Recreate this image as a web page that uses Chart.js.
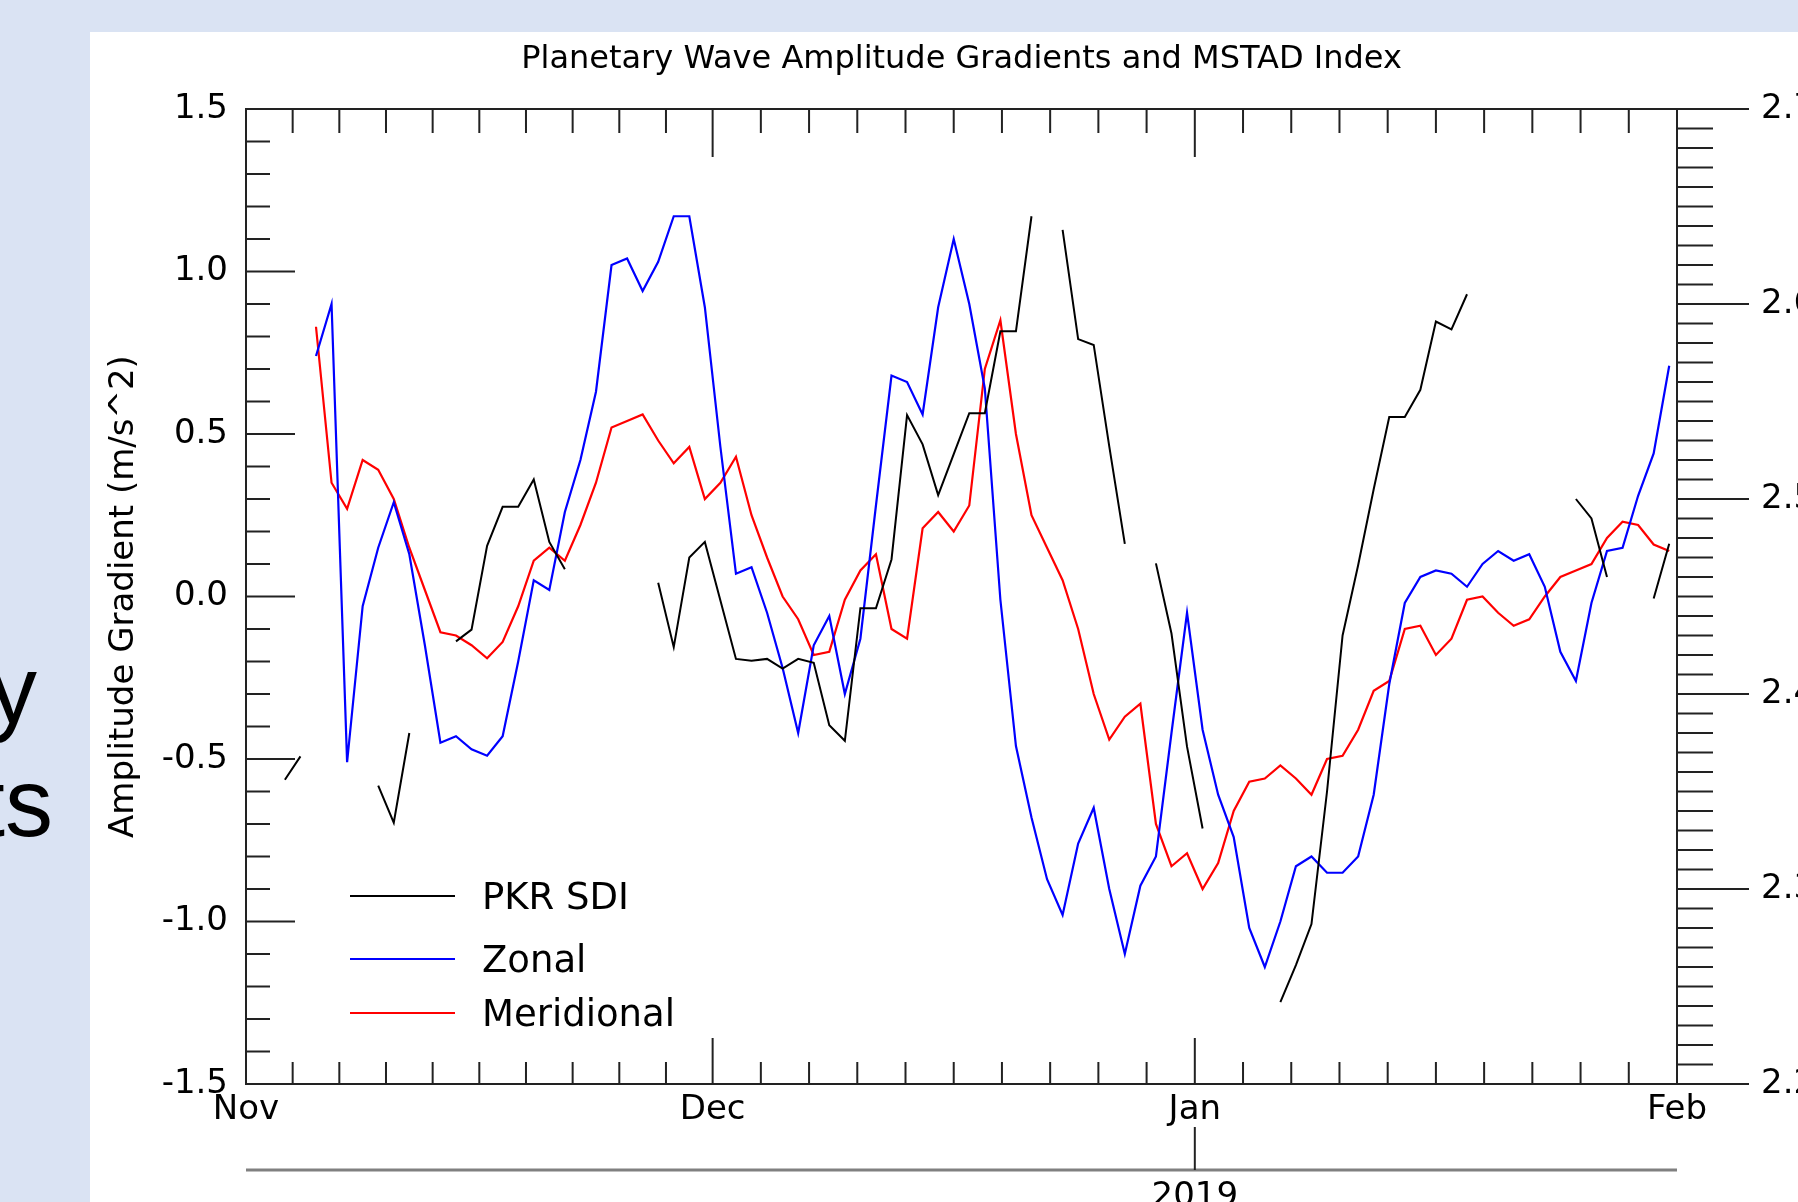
<!DOCTYPE html>
<html>
<head>
<meta charset="utf-8">
<title>Planetary Wave Amplitude Gradients and MSTAD Index</title>
<script src="https://cdn.jsdelivr.net/npm/chart.js@4.4.1/dist/chart.umd.min.js"></script>
<style>
  body {
    margin: 0;
    width: 1798px;
    height: 1202px;
    overflow: hidden;
    position: relative;
    background: #dae3f3;
  }
  .slide-text {
    position: absolute;
    font-family: 'Liberation Sans', Arial, sans-serif;
    font-size: 96px;
    line-height: 96px;
    color: #000;
    white-space: nowrap;
  }
  #panel {
    position: absolute;
    left: 90px;
    top: 32px;
    width: 1708px;
    height: 1170px;
    background: #fff;
  }
</style>
</head>
<body>
<div class="slide-text" style="right: 1761px; top: 642px;">y</div>
<div class="slide-text" style="right: 1745px; top: 755px;">ts</div>
<div id="panel"><canvas id="my-chart" width="1708" height="1170"></canvas></div>

<script>
// day 0 is 1 Nov 2018, one value per day, null where there is no data
const monthLabels = ['Nov', 'Dec', 'Jan', 'Feb'];
const monthStarts = [0, 30, 61, 92];
const yearLabel = '2019';
const leftTicks = [-1.5, -1.0, -0.5, 0.0, 0.5, 1.0, 1.5];
const rightTicks = [2.2, 2.3, 2.4, 2.5, 2.6, 2.7];

// MSTAD index, right axis
const pkrSdi = [
  null, null, 2.356, 2.368, null, null, null, null, 2.353, 2.334,
  2.380, null, null, 2.427, 2.433, 2.476, 2.496, 2.496, 2.510, 2.478,
  2.464, null, null, null, null, null, 2.457, 2.424, 2.470, 2.478,
  2.448, 2.418, 2.417, 2.418, 2.413, 2.418, 2.416, 2.384, 2.376, 2.444,
  2.444, 2.469, 2.543, 2.528, 2.502, 2.523, 2.544, 2.544, 2.586, 2.586,
  2.645, null, 2.638, 2.582, 2.579, 2.527, 2.477, null, 2.467, 2.431,
  2.373, 2.331, null, null, null, null, 2.242, 2.261, 2.282, 2.350,
  2.430, 2.466, 2.505, 2.542, 2.542, 2.556, 2.591, 2.587, 2.605, null,
  null, null, null, null, null, 2.500, 2.490, 2.460, null, null,
  2.449, 2.477,
];

// amplitude gradients, left axis (m/s^2)
const zonal = [
  null, null, null, null, 0.74, 0.90, -0.51, -0.03, 0.15, 0.29,
  0.13, -0.15, -0.45, -0.43, -0.47, -0.49, -0.43, -0.20, 0.05, 0.02,
  0.26, 0.42, 0.63, 1.02, 1.04, 0.94, 1.03, 1.17, 1.17, 0.89,
  0.46, 0.07, 0.09, -0.05, -0.22, -0.42, -0.15, -0.06, -0.30, -0.13,
  0.28, 0.68, 0.66, 0.56, 0.89, 1.10, 0.90, 0.64, -0.01, -0.46,
  -0.68, -0.87, -0.98, -0.76, -0.65, -0.90, -1.10, -0.89, -0.80, -0.42,
  -0.05, -0.41, -0.61, -0.74, -1.02, -1.14, -1.00, -0.83, -0.80, -0.85,
  -0.85, -0.80, -0.61, -0.27, -0.02, 0.06, 0.08, 0.07, 0.03, 0.10,
  0.14, 0.11, 0.13, 0.03, -0.17, -0.26, -0.02, 0.14, 0.15, 0.31,
  0.44, 0.71,
];

const meridional = [
  null, null, null, null, 0.83, 0.35, 0.27, 0.42, 0.39, 0.30,
  0.15, 0.02, -0.11, -0.12, -0.15, -0.19, -0.14, -0.03, 0.11, 0.15,
  0.11, 0.22, 0.35, 0.52, 0.54, 0.56, 0.48, 0.41, 0.46, 0.30,
  0.35, 0.43, 0.25, 0.12, 0.00, -0.07, -0.18, -0.17, -0.01, 0.08,
  0.13, -0.10, -0.13, 0.21, 0.26, 0.20, 0.28, 0.70, 0.85, 0.50,
  0.25, 0.15, 0.05, -0.10, -0.30, -0.44, -0.37, -0.33, -0.70, -0.83,
  -0.79, -0.90, -0.82, -0.66, -0.57, -0.56, -0.52, -0.56, -0.61, -0.50,
  -0.49, -0.41, -0.29, -0.26, -0.10, -0.09, -0.18, -0.13, -0.01, 0.00,
  -0.05, -0.09, -0.07, 0.00, 0.06, 0.08, 0.10, 0.18, 0.23, 0.22,
  0.16, 0.14,
];

const FONT = "'DejaVu Sans', 'Liberation Sans', sans-serif";
let myChart;

function toPoints(values) {
  // each daily value sits at noon of its day
  return values.map((v, i) => ({ x: i + 0.5, y: v }));
}

// box, tick marks and the extra year axis under the months
const axisFrame = {
  id: 'axisFrame',
  afterDraw(chart) {
    const { ctx, chartArea: a, scales } = chart;
    const x = scales.x;
    const y = scales.y;
    const y2 = scales.y2;

    ctx.save();
    ctx.strokeStyle = '#222';
    ctx.lineWidth = 2;
    ctx.strokeRect(a.left, a.top, a.right - a.left, a.bottom - a.top);

    ctx.beginPath();
    // left axis, tick every 0.1
    for (let k = -15; k <= 15; k++) {
      const py = y.getPixelForValue(k / 10);
      const len = k % 5 === 0 ? 49 : 24;
      ctx.moveTo(a.left, py);
      ctx.lineTo(a.left + len, py);
    }
    // right axis, tick every 0.01, pointing out
    for (let k = 220; k <= 270; k++) {
      const py = y2.getPixelForValue(k / 100);
      const len = k % 10 === 0 ? 72 : 36;
      ctx.moveTo(a.right, py);
      ctx.lineTo(a.right + len, py);
    }
    // top and bottom, each month cut in ten
    for (let m = 0; m < monthStarts.length; m++) {
      const start = monthStarts[m];
      const px = x.getPixelForValue(start);
      ctx.moveTo(px, a.top);
      ctx.lineTo(px, a.top + 48);
      ctx.moveTo(px, a.bottom);
      ctx.lineTo(px, a.bottom - 46);
      if (m === monthStarts.length - 1) break;
      const step = (monthStarts[m + 1] - start) / 10;
      for (let k = 1; k < 10; k++) {
        const p = x.getPixelForValue(start + k * step);
        ctx.moveTo(p, a.top);
        ctx.lineTo(p, a.top + 24);
        ctx.moveTo(p, a.bottom);
        ctx.lineTo(p, a.bottom - 22);
      }
    }
    ctx.stroke();

    // year axis
    const yearY = a.bottom + 86;
    ctx.strokeStyle = '#808080';
    ctx.lineWidth = 3;
    ctx.beginPath();
    ctx.moveTo(a.left, yearY);
    ctx.lineTo(a.right, yearY);
    ctx.stroke();

    const jan = x.getPixelForValue(monthStarts[2]);
    ctx.strokeStyle = '#222';
    ctx.lineWidth = 2;
    ctx.beginPath();
    ctx.moveTo(jan, yearY - 43);
    ctx.lineTo(jan, yearY);
    ctx.stroke();

    ctx.font = '34px ' + FONT;
    ctx.fillStyle = '#000';
    ctx.textAlign = 'center';
    ctx.textBaseline = 'alphabetic';
    ctx.fillText(yearLabel, jan, yearY + 36);
    ctx.restore();
  },
};

// title centred over the plot box, not the canvas
const chartTitle = {
  id: 'chartTitle',
  afterDraw(chart) {
    const { ctx, chartArea: a } = chart;
    ctx.save();
    ctx.font = '32px ' + FONT;
    ctx.fillStyle = '#000';
    ctx.textAlign = 'center';
    ctx.textBaseline = 'alphabetic';
    ctx.fillText('Planetary Wave Amplitude Gradients and MSTAD Index', (a.left + a.right) / 2, a.top - 41);
    ctx.restore();
  },
};

// legend sits inside the plot, lower left
const insideLegend = {
  id: 'insideLegend',
  afterDraw(chart) {
    const { ctx, chartArea: a } = chart;
    const rows = [787, 850, 904];
    ctx.save();
    ctx.font = '37px ' + FONT;
    ctx.textAlign = 'left';
    ctx.textBaseline = 'alphabetic';
    chart.data.datasets.forEach((ds, i) => {
      const ly = a.top + rows[i];
      ctx.strokeStyle = ds.borderColor;
      ctx.lineWidth = 2;
      ctx.beginPath();
      ctx.moveTo(a.left + 104, ly);
      ctx.lineTo(a.left + 209, ly);
      ctx.stroke();
      ctx.fillStyle = '#000';
      ctx.fillText(ds.label, a.left + 236, ly + 13);
    });
    ctx.restore();
  },
};

function populateChart() {
  Chart.defaults.font.family = FONT;
  Chart.defaults.color = '#000';

  const ctx = document.getElementById('my-chart').getContext('2d');

  myChart = new Chart(ctx, {
    type: 'line',
    data: {
      datasets: [
        {
          label: 'PKR SDI',
          data: toPoints(pkrSdi),
          borderColor: '#000000',
          borderWidth: 2,
          yAxisID: 'y2',
        },
        {
          label: 'Zonal',
          data: toPoints(zonal),
          borderColor: '#0000ff',
          yAxisID: 'y',
        },
        {
          label: 'Meridional',
          data: toPoints(meridional),
          borderColor: '#ff0000',
          yAxisID: 'y',
        },
      ],
    },
    options: {
      responsive: false,
      devicePixelRatio: 1,
      animation: false,
      events: [],
      spanGaps: false,
      layout: { padding: { top: 77, left: 0, right: 0, bottom: 0 } },
      elements: {
        point: { radius: 0 },
        line: { borderWidth: 2.2, tension: 0, fill: false },
      },
      plugins: {
        legend: { display: false },
        tooltip: { enabled: false },
      },
      scales: {
        x: {
          type: 'linear',
          min: 0,
          max: 92,
          grid: { display: false, drawTicks: false },
          border: { display: false },
          afterBuildTicks: (scale) => {
            scale.ticks = monthStarts.map((v) => ({ value: v }));
          },
          ticks: {
            font: { size: 34 },
            padding: 6,
            autoSkip: false,
            maxRotation: 0,
            callback: (v) => monthLabels[monthStarts.indexOf(v)],
          },
          afterFit: (scale) => {
            scale.height = 118;
          },
        },
        y: {
          position: 'left',
          min: -1.5,
          max: 1.5,
          grid: { display: false, drawTicks: false },
          border: { display: false },
          afterBuildTicks: (scale) => {
            scale.ticks = leftTicks.map((v) => ({ value: v }));
          },
          ticks: {
            font: { size: 34 },
            padding: 18,
            autoSkip: false,
            callback: (v) => v.toFixed(1),
          },
          title: {
            display: true,
            text: 'Amplitude Gradient (m/s^2)',
            font: { size: 34 },
            color: '#000',
            padding: { top: 14, bottom: 0 },
          },
          afterFit: (scale) => {
            scale.width = 156;
            scale.paddingTop = 0;
            scale.paddingBottom = 0;
          },
        },
        y2: {
          position: 'right',
          min: 2.2,
          max: 2.7,
          grid: { display: false, drawTicks: false },
          border: { display: false },
          afterBuildTicks: (scale) => {
            scale.ticks = rightTicks.map((v) => ({ value: v }));
          },
          ticks: {
            font: { size: 34 },
            padding: 84,
            autoSkip: false,
            callback: (v) => v.toFixed(1),
          },
          afterFit: (scale) => {
            // the wide label gap must not push the plot box down
            scale.width = 121;
            scale.paddingTop = 0;
            scale.paddingBottom = 0;
          },
        },
      },
    },
    plugins: [axisFrame, chartTitle, insideLegend],
  });
}

populateChart();
</script>
</body>
</html>
